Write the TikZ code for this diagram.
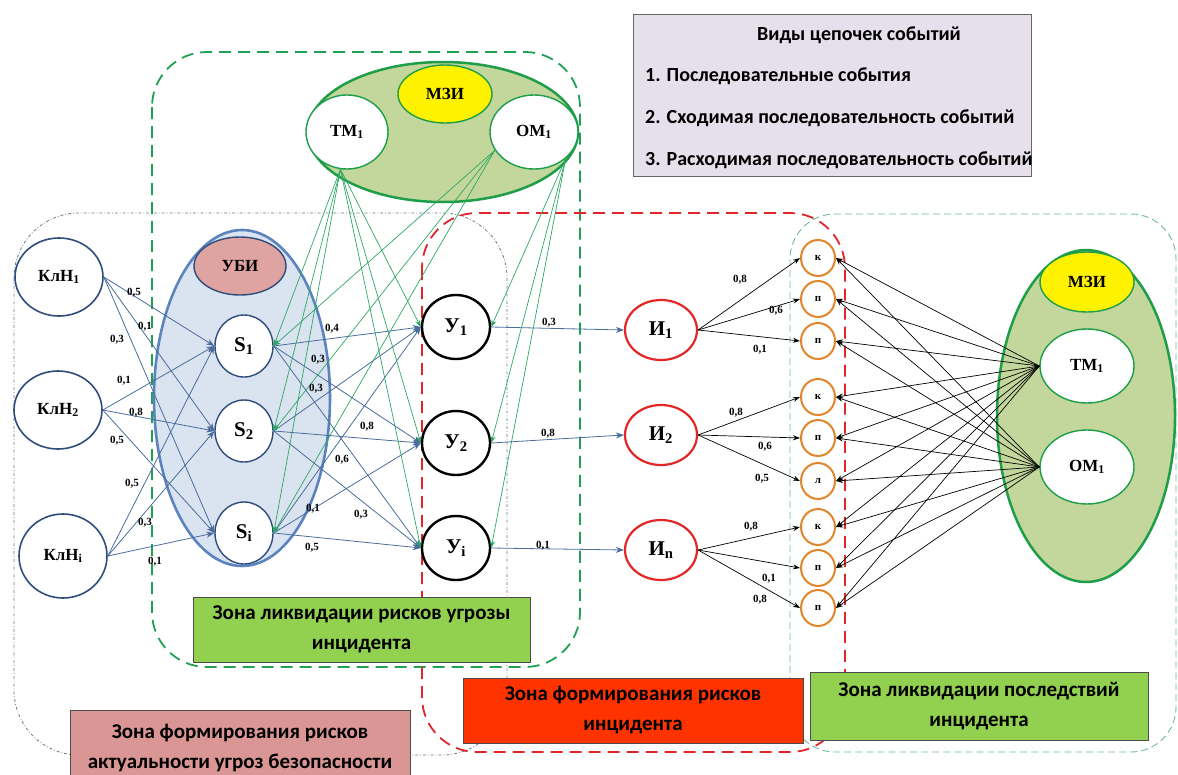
\documentclass[tikz,border=0pt]{standalone}
\usepackage{fontspec}
\setmainfont{Liberation Serif}
\newfontfamily\zonefont{Carlito}
\usetikzlibrary{shapes.geometric, arrows.meta, positioning}

\definecolor{navy}{HTML}{2E4C7C}
\definecolor{arrblue}{HTML}{4A6C9B}
\definecolor{ubiblue}{HTML}{5B84BF}
\definecolor{ubifill}{HTML}{DAE3F0}
\definecolor{ubipink}{HTML}{DFA3A2}
\definecolor{mzigreen}{HTML}{1E9E48}
\definecolor{mzifill}{HTML}{C3D69B}
\definecolor{lgreen}{HTML}{2CA862}
\definecolor{incred}{HTML}{E32626}
\definecolor{consorange}{HTML}{E2862C}
\definecolor{zgray}{HTML}{6C7A8C}
\definecolor{zred}{HTML}{E0262B}
\definecolor{zgreen}{HTML}{20A052}
\definecolor{zteal}{HTML}{6DB8A0}
\definecolor{boxgreen}{HTML}{92D050}
\definecolor{boxred}{HTML}{FF3300}
\definecolor{boxpink}{HTML}{D99694}
\definecolor{lav}{HTML}{E6E0EC}

\begin{document}
\begin{tikzpicture}[x=1pt, y=-1pt]
    \tikzstyle{kln} = [ellipse, draw=navy, line width=1.6pt, fill=white, minimum width=88, minimum height=78, inner sep=0pt, font=\bfseries\fontsize{17}{17}\selectfont];
    \tikzstyle{snode} = [ellipse, draw=navy, line width=1.4pt, fill=white, minimum width=58, minimum height=62, inner sep=0pt, font=\bfseries\fontsize{21}{21}\selectfont];
    \tikzstyle{unode} = [ellipse, draw=black, line width=2.4pt, fill=white, minimum width=68, minimum height=64, inner sep=0pt, font=\bfseries\fontsize{21}{21}\selectfont];
    \tikzstyle{inode} = [ellipse, draw=incred, line width=2.2pt, fill=white, minimum width=72, minimum height=60, inner sep=0pt, font=\bfseries\fontsize{21}{21}\selectfont];
    \tikzstyle{cons} = [ellipse, draw=consorange, line width=2pt, fill=white, minimum width=34, minimum height=36, inner sep=0pt, font=\bfseries\fontsize{11}{11}\selectfont];
    \tikzstyle{mzi} = [ellipse, draw=mzigreen, line width=2.5pt, fill=mzifill];
    \tikzstyle{mziin} = [ellipse, draw=mzigreen, line width=1.4pt, fill=white, inner sep=0pt, font=\bfseries\fontsize{17}{17}\selectfont];
    \tikzstyle{wt} = [inner sep=0pt, font=\bfseries\fontsize{11}{11}\selectfont];
    \tikzstyle{bluearr} = [draw=arrblue, line width=0.8pt, -{Stealth[length=8pt, width=6pt]}];
    \tikzstyle{greenarr} = [draw=lgreen, line width=0.7pt, -{Stealth[length=7pt, width=5pt]}];
    \tikzstyle{blackarr} = [draw=black, line width=0.7pt, -{Stealth[length=7pt, width=5pt]}];
    \tikzstyle{zonebox} = [draw=black!70, line width=1pt, inner sep=0pt, align=center, font=\zonefont\bfseries\fontsize{21}{30}\selectfont];
    \tikzstyle{zonetxt} = [inner sep=0pt, font=\zonefont\bfseries\fontsize{20}{20}\selectfont];

    \useasboundingbox (0,0) rectangle (1178,774);

    \draw[zgray, line width=0.8pt, dash dot] (14,213) [rounded corners=65] rectangle (507,755);
    \draw[zgreen, line width=1.8pt, dash pattern=on 12pt off 7pt] (152,52) [rounded corners=55] rectangle (580,667);
    \draw[zred, line width=1.8pt, dash pattern=on 12pt off 7pt] (422,213) [rounded corners=55] rectangle (845,752);
    \draw[zteal, line width=0.9pt, dash pattern=on 7pt off 4pt] (790,214) [rounded corners=45] rectangle (1176,752);

    \node[ellipse, draw=ubiblue, line width=2.6pt, fill=ubifill, minimum width=176, minimum height=336] (ubi) at (242,398) {};
    \node[ellipse, draw=navy, line width=1.4pt, fill=ubipink, minimum width=92, minimum height=58, font=\bfseries\fontsize{17}{17}\selectfont] (ubih) at (240,266) {УБИ};

    \node[mzi, minimum width=270, minimum height=140] (mzitop) at (443,132) {};
    \node[ellipse, draw=mzigreen, line width=1.4pt, fill=yellow, minimum width=94, minimum height=58, font=\bfseries\fontsize{17}{17}\selectfont] (mzitoph) at (445,94) {МЗИ};
    \node[mziin, minimum width=82, minimum height=74] (tm) at (347,132) {ТМ\textsubscript{1}};
    \node[mziin, minimum width=88, minimum height=74] (om) at (534,132) {ОМ\textsubscript{1}};

    \node[mzi, minimum width=178, minimum height=332] (mziright) at (1086,416) {};
    \node[ellipse, draw=mzigreen, line width=1.4pt, fill=yellow, minimum width=94, minimum height=60, font=\bfseries\fontsize{17}{17}\selectfont] (mzirighth) at (1087,282) {МЗИ};
    \node[mziin, minimum width=94, minimum height=74] (tmr) at (1087,366) {ТМ\textsubscript{1}};
    \node[mziin, minimum width=94, minimum height=74] (omr) at (1087,467) {ОМ\textsubscript{1}};

    \node[kln] (k1) at (59,277) {КлН\textsubscript{1}};
    \node[kln] (k2) at (58,410) {КлН\textsubscript{2}};
    \node[kln, minimum height=84] (ki) at (63,556) {КлН\textsubscript{i}};

    \node[snode] (s1) at (244,346) {S\textsubscript{1}};
    \node[snode] (s2) at (244,431) {S\textsubscript{2}};
    \node[snode] (si) at (244,533) {S\textsubscript{i}};

    \node[unode] (u1) at (456,327) {У\textsubscript{1}};
    \node[unode] (u2) at (456,443) {У\textsubscript{2}};
    \node[unode] (ui) at (456,548) {У\textsubscript{i}};

    \node[inode] (i1) at (661,330) {И\textsubscript{1}};
    \node[inode] (i2) at (661,435) {И\textsubscript{2}};
    \node[inode] (in) at (661,550) {И\textsubscript{n}};

    \foreach \y/\t [count=\n] in {258/к, 299/п, 341/п, 397/к, 438/п, 481/л, 527/к, 568/п, 608/п}
        \node[cons] (o\n) at (818,\y) {\t};

    \foreach \a in {k1, k2, ki}
        \foreach \b in {s1, s2, si}
            \draw[bluearr] (\a.east) -- (\b.west);
    \foreach \a in {s1, s2, si}
        \foreach \b in {u1, u2, ui}
            \draw[bluearr] (\a.east) -- (\b.west);

    \foreach \b in {s1, s2, si} {
        \draw[greenarr] (tm.260) -- (\b.east);
        \draw[greenarr] (om.205) -- (\b.east);
    }
    \foreach \b in {u1, u2, ui} {
        \draw[greenarr] (tm.260) -- (\b.west);
        \draw[greenarr] (om.-40) -- (\b.east);
    }

    \draw[bluearr] (u1.east) -- (i1.west);
    \draw[bluearr] (u2.east) -- (i2.west);
    \draw[bluearr] (ui.east) -- (in.west);

    \foreach \b in {o1, o2, o3}
        \draw[blackarr] (i1.east) -- (\b.west);
    \foreach \b in {o4, o5, o6}
        \draw[blackarr] (i2.east) -- (\b.west);
    \foreach \b in {o7, o8, o9}
        \draw[blackarr] (in.east) -- (\b.west);
    \foreach \n in {1,...,9} {
        \draw[blackarr] (tmr.west) -- (o\n.east);
        \draw[blackarr] (omr.west) -- (o\n.east);
    }

    \foreach \x/\y/\t [count=\n] in {134/293/{0,5}, 145/327/{0,1}, 117/340/{0,3}, 124/381/{0,1}, 136/413/{0,8}, 117/441/{0,5}, 132/484/{0,5}, 145/523/{0,3}, 155/562/{0,1},
        332/329/{0,4}, 318/360/{0,3}, 316/389/{0,3}, 367/427/{0,8}, 342/460/{0,6}, 313/509/{0,1}, 361/515/{0,3}, 312/548/{0,5},
        549/323/{0,3}, 548/434/{0,8}, 543/546/{0,1},
        740/280/{0,8}, 776/311/{0,6}, 760/350/{0,1}, 736/413/{0,8}, 765/447/{0,6}, 762/479/{0,5}, 751/527/{0,8}, 769/579/{0,1}, 760/600/{0,8}}
        \node[wt] (w\n) at (\x,\y) {\t};

    \node[draw=black!60, line width=1pt, fill=lav, minimum width=398, minimum height=162, inner sep=0pt] (vid) at (832,95) {};
    \node[zonetxt] (vid0) at (859,35) {Виды цепочек событий};
    \node[zonetxt, anchor=west] (vid1) at (645,76) {1. Последовательные события};
    \node[zonetxt, anchor=west] (vid2) at (645,118) {2. Сходимая последовательность событий};
    \node[zonetxt, anchor=west] (vid3) at (645,160) {3. Расходимая последовательность событий};

    \node[zonebox, fill=boxgreen, minimum width=337, minimum height=65] (zlu) at (361.5,629.5) {Зона ликвидации рисков угрозы\\инцидента};
    \node[zonebox, fill=boxred, minimum width=340, minimum height=65] (zfi) at (633,710.5) {Зона формирования рисков\\инцидента};
    \node[zonebox, fill=boxgreen, minimum width=338, minimum height=68] (zlp) at (979,706) {Зона ликвидации последствий\\инцидента};
    \node[zonebox, fill=boxpink, minimum width=340, minimum height=76] (zfa) at (240,748) {Зона формирования рисков\\актуальности угроз безопасности};
\end{tikzpicture}
\end{document}
